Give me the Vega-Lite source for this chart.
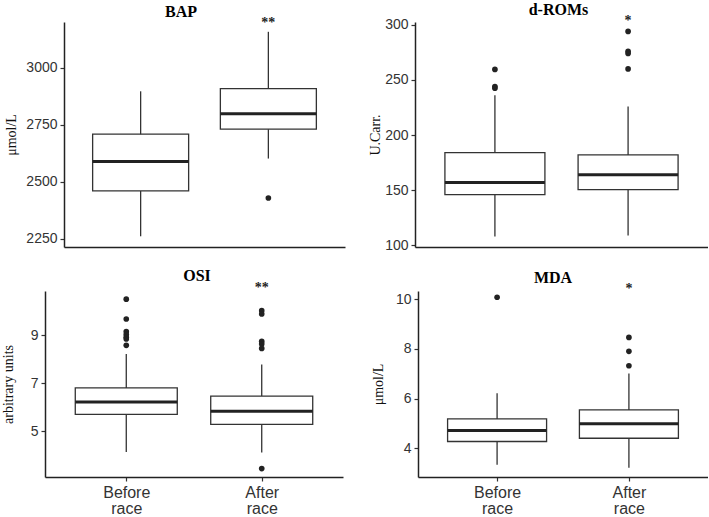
{
  "$schema": "https://vega.github.io/schema/vega-lite/v6.json",
  "background": "white",
  "padding": {"left": 1, "top": 2, "right": 0, "bottom": 0},
  "datasets": {
    "boxes": [
      {"panel": "BAP", "group": "Before race", "lower": 2260, "q1": 2459, "median": 2588, "q3": 2708, "upper": 2896},
      {"panel": "BAP", "group": "After race", "lower": 2601, "q1": 2730, "median": 2798, "q3": 2908, "upper": 3157},
      {"panel": "dROMs", "group": "Before race", "lower": 108, "q1": 146, "median": 157, "q3": 184, "upper": 236},
      {"panel": "dROMs", "group": "After race", "lower": 109, "q1": 150.5, "median": 164, "q3": 182, "upper": 226},
      {"panel": "OSI", "group": "Before race", "lower": 4.12, "q1": 5.7, "median": 6.21, "q3": 6.8, "upper": 8.22},
      {"panel": "OSI", "group": "After race", "lower": 4.1, "q1": 5.28, "median": 5.83, "q3": 6.46, "upper": 7.78},
      {"panel": "MDA", "group": "Before race", "lower": 3.33, "q1": 4.27, "median": 4.71, "q3": 5.18, "upper": 6.21},
      {"panel": "MDA", "group": "After race", "lower": 3.21, "q1": 4.4, "median": 4.98, "q3": 5.54, "upper": 7.01}
    ],
    "outliers": [
      {"panel": "BAP", "group": "After race", "value": 2428},
      {"panel": "dROMs", "group": "Before race", "value": 259.5},
      {"panel": "dROMs", "group": "Before race", "value": 244},
      {"panel": "dROMs", "group": "Before race", "value": 242.5},
      {"panel": "dROMs", "group": "After race", "value": 294},
      {"panel": "dROMs", "group": "After race", "value": 276},
      {"panel": "dROMs", "group": "After race", "value": 274},
      {"panel": "dROMs", "group": "After race", "value": 260},
      {"panel": "OSI", "group": "Before race", "value": 10.51},
      {"panel": "OSI", "group": "Before race", "value": 9.68},
      {"panel": "OSI", "group": "Before race", "value": 9.15},
      {"panel": "OSI", "group": "Before race", "value": 9.03},
      {"panel": "OSI", "group": "Before race", "value": 8.92},
      {"panel": "OSI", "group": "Before race", "value": 8.85},
      {"panel": "OSI", "group": "Before race", "value": 8.58},
      {"panel": "OSI", "group": "After race", "value": 10.03},
      {"panel": "OSI", "group": "After race", "value": 9.89},
      {"panel": "OSI", "group": "After race", "value": 8.75},
      {"panel": "OSI", "group": "After race", "value": 8.64},
      {"panel": "OSI", "group": "After race", "value": 8.45},
      {"panel": "OSI", "group": "After race", "value": 3.43},
      {"panel": "MDA", "group": "Before race", "value": 10.08},
      {"panel": "MDA", "group": "After race", "value": 8.46},
      {"panel": "MDA", "group": "After race", "value": 7.9},
      {"panel": "MDA", "group": "After race", "value": 7.32}
    ],
    "stars": [
      {"panel": "BAP", "group": "After race", "y": 3195, "label": "**"},
      {"panel": "dROMs", "group": "After race", "y": 303, "label": "*"},
      {"panel": "OSI", "group": "After race", "y": 10.97, "label": "**"},
      {"panel": "MDA", "group": "After race", "y": 10.41, "label": "*"}
    ]
  },
  "spacing": 15,
  "vconcat": [
    {
      "bounds": "flush",
      "spacing": 70,
      "hconcat": [
        {
          "width": 300, "height": 225,
          "title": {"text": "BAP", "font": "Liberation Serif", "fontSize": 16, "fontWeight": "bold", "color": "black", "anchor": "middle", "offset": -4, "dx": -14},
          "encoding": {"x": {"field": "group", "type": "nominal", "scale": {"type": "point", "domain": ["Before race", "After race"], "padding": 0.6, "range": [19, 300]}, "axis": {"title": null, "labels": false, "ticks": false}}},
          "layer": [
            {"data": {"name": "boxes"}, "transform": [{"filter": "datum.panel === 'BAP'"}], "mark": {"type": "rule", "color": "#333", "strokeWidth": 1.3},
             "encoding": {"y": {"field": "lower", "type": "quantitative", "title": "μmol/L", "scale": {"domain": [2213, 3200], "nice": false, "zero": false}, "axis": {"values": [2250, 2500, 2750, 3000], "format": "d", "titleX": -53, "titleBaseline": "middle", "offset": -19}}, "y2": {"field": "upper"}}},
            {"data": {"name": "boxes"}, "transform": [{"filter": "datum.panel === 'BAP'"}], "mark": {"type": "bar", "width": 96, "fill": "white", "stroke": "#333", "strokeWidth": 1.3},
             "encoding": {"y": {"field": "q1", "type": "quantitative", "title": "μmol/L"}, "y2": {"field": "q3"}}},
            {"data": {"name": "boxes"}, "transform": [{"filter": "datum.panel === 'BAP'"}], "mark": {"type": "tick", "size": 96, "thickness": 3, "color": "#222", "opacity": 1},
             "encoding": {"y": {"field": "median", "type": "quantitative", "title": "μmol/L"}}},
            {"data": {"name": "outliers"}, "transform": [{"filter": "datum.panel === 'BAP'"}], "mark": {"type": "circle", "size": 32, "color": "#222", "opacity": 1},
             "encoding": {"y": {"field": "value", "type": "quantitative", "title": "μmol/L"}}},
            {"data": {"name": "stars"}, "transform": [{"filter": "datum.panel === 'BAP'"}], "mark": {"type": "text", "font": "Liberation Serif", "fontSize": 14, "fontWeight": "bold", "color": "#222", "baseline": "middle"},
             "encoding": {"y": {"field": "y", "type": "quantitative", "title": "μmol/L"}, "text": {"field": "label"}}}
          ]
        },
        {
          "width": 293, "height": 225,
          "title": {"text": "d-ROMs", "font": "Liberation Serif", "fontSize": 16, "fontWeight": "bold", "color": "black", "anchor": "middle", "offset": -4, "dx": -3},
          "encoding": {"x": {"field": "group", "type": "nominal", "scale": {"type": "point", "domain": ["Before race", "After race"], "padding": 0.6}, "axis": {"title": null, "labels": false, "ticks": false}}},
          "layer": [
            {"data": {"name": "boxes"}, "transform": [{"filter": "datum.panel === 'dROMs'"}], "mark": {"type": "rule", "color": "#333", "strokeWidth": 1.3},
             "encoding": {"y": {"field": "lower", "type": "quantitative", "title": "U.Carr.", "scale": {"domain": [98.5, 302.5], "nice": false, "zero": false}, "axis": {"values": [100, 150, 200, 250, 300], "titleX": -40, "titleBaseline": "middle"}}, "y2": {"field": "upper"}}},
            {"data": {"name": "boxes"}, "transform": [{"filter": "datum.panel === 'dROMs'"}], "mark": {"type": "bar", "width": 100, "fill": "white", "stroke": "#333", "strokeWidth": 1.3},
             "encoding": {"y": {"field": "q1", "type": "quantitative", "title": "U.Carr."}, "y2": {"field": "q3"}}},
            {"data": {"name": "boxes"}, "transform": [{"filter": "datum.panel === 'dROMs'"}], "mark": {"type": "tick", "size": 100, "thickness": 3, "color": "#222", "opacity": 1},
             "encoding": {"y": {"field": "median", "type": "quantitative", "title": "U.Carr."}}},
            {"data": {"name": "outliers"}, "transform": [{"filter": "datum.panel === 'dROMs'"}], "mark": {"type": "circle", "size": 32, "color": "#222", "opacity": 1},
             "encoding": {"y": {"field": "value", "type": "quantitative", "title": "U.Carr."}}},
            {"data": {"name": "stars"}, "transform": [{"filter": "datum.panel === 'dROMs'"}], "mark": {"type": "text", "font": "Liberation Serif", "fontSize": 14, "fontWeight": "bold", "color": "#222", "baseline": "middle"},
             "encoding": {"y": {"field": "y", "type": "quantitative", "title": "U.Carr."}, "text": {"field": "label"}}}
          ]
        }
      ]
    },
    {
      "bounds": "flush",
      "spacing": 75,
      "hconcat": [
        {
          "width": 298, "height": 186,
          "title": {"text": "OSI", "font": "Liberation Serif", "fontSize": 16, "fontWeight": "bold", "color": "black", "anchor": "middle", "offset": -3, "dx": 3},
          "encoding": {"x": {"field": "group", "type": "nominal", "scale": {"type": "point", "domain": ["Before race", "After race"], "padding": 0.6}, "axis": {"title": null, "labelAngle": 0, "labelExpr": "split(datum.label, ' ')", "labelFontSize": 16, "labelLineHeight": 16, "labelPadding": 3}}},
          "layer": [
            {"data": {"name": "boxes"}, "transform": [{"filter": "datum.panel === 'OSI'"}], "mark": {"type": "rule", "color": "#333", "strokeWidth": 1.3},
             "encoding": {"y": {"field": "lower", "type": "quantitative", "title": "arbitrary units", "scale": {"domain": [3.08, 10.85], "nice": false, "zero": false}, "axis": {"values": [5, 7, 9], "titleX": -37, "titleBaseline": "middle"}}, "y2": {"field": "upper"}}},
            {"data": {"name": "boxes"}, "transform": [{"filter": "datum.panel === 'OSI'"}], "mark": {"type": "bar", "width": 102, "fill": "white", "stroke": "#333", "strokeWidth": 1.3},
             "encoding": {"y": {"field": "q1", "type": "quantitative", "title": "arbitrary units"}, "y2": {"field": "q3"}}},
            {"data": {"name": "boxes"}, "transform": [{"filter": "datum.panel === 'OSI'"}], "mark": {"type": "tick", "size": 102, "thickness": 3, "color": "#222", "opacity": 1},
             "encoding": {"y": {"field": "median", "type": "quantitative", "title": "arbitrary units"}}},
            {"data": {"name": "outliers"}, "transform": [{"filter": "datum.panel === 'OSI'"}], "mark": {"type": "circle", "size": 32, "color": "#222", "opacity": 1},
             "encoding": {"y": {"field": "value", "type": "quantitative", "title": "arbitrary units"}}},
            {"data": {"name": "stars"}, "transform": [{"filter": "datum.panel === 'OSI'"}], "mark": {"type": "text", "font": "Liberation Serif", "fontSize": 14, "fontWeight": "bold", "color": "#222", "baseline": "middle"},
             "encoding": {"y": {"field": "y", "type": "quantitative", "title": "arbitrary units"}, "text": {"field": "label"}}}
          ]
        },
        {
          "width": 290, "height": 186,
          "title": {"text": "MDA", "font": "Liberation Serif", "fontSize": 16, "fontWeight": "bold", "color": "black", "anchor": "middle", "offset": -4, "dx": -10},
          "encoding": {"x": {"field": "group", "type": "nominal", "scale": {"type": "point", "domain": ["Before race", "After race"], "padding": 0.6}, "axis": {"title": null, "labelAngle": 0, "labelExpr": "split(datum.label, ' ')", "labelFontSize": 16, "labelLineHeight": 16, "labelPadding": 3}}},
          "layer": [
            {"data": {"name": "boxes"}, "transform": [{"filter": "datum.panel === 'MDA'"}], "mark": {"type": "rule", "color": "#333", "strokeWidth": 1.3},
             "encoding": {"y": {"field": "lower", "type": "quantitative", "title": "μmol/L", "scale": {"domain": [2.84, 10.33], "nice": false, "zero": false}, "axis": {"values": [4, 6, 8, 10], "titleX": -40, "titleBaseline": "middle"}}, "y2": {"field": "upper"}}},
            {"data": {"name": "boxes"}, "transform": [{"filter": "datum.panel === 'MDA'"}], "mark": {"type": "bar", "width": 99, "fill": "white", "stroke": "#333", "strokeWidth": 1.3},
             "encoding": {"y": {"field": "q1", "type": "quantitative", "title": "μmol/L"}, "y2": {"field": "q3"}}},
            {"data": {"name": "boxes"}, "transform": [{"filter": "datum.panel === 'MDA'"}], "mark": {"type": "tick", "size": 99, "thickness": 3, "color": "#222", "opacity": 1},
             "encoding": {"y": {"field": "median", "type": "quantitative", "title": "μmol/L"}}},
            {"data": {"name": "outliers"}, "transform": [{"filter": "datum.panel === 'MDA'"}], "mark": {"type": "circle", "size": 32, "color": "#222", "opacity": 1},
             "encoding": {"y": {"field": "value", "type": "quantitative", "title": "μmol/L"}}},
            {"data": {"name": "stars"}, "transform": [{"filter": "datum.panel === 'MDA'"}], "mark": {"type": "text", "font": "Liberation Serif", "fontSize": 14, "fontWeight": "bold", "color": "#222", "baseline": "middle"},
             "encoding": {"y": {"field": "y", "type": "quantitative", "title": "μmol/L"}, "text": {"field": "label"}}}
          ]
        }
      ]
    }
  ],
  "config": {
    "view": {"stroke": null},
    "axis": {
      "grid": false,
      "labelFont": "Liberation Sans", "labelFontSize": 14, "labelColor": "#333",
      "titleFont": "Liberation Serif", "titleFontSize": 14, "titleFontWeight": "normal", "titleColor": "#111",
      "domainColor": "#222", "domainWidth": 1.5,
      "tickColor": "#333", "tickSize": 4, "tickWidth": 1.2,
      "labelPadding": 3
    }
  }
}
